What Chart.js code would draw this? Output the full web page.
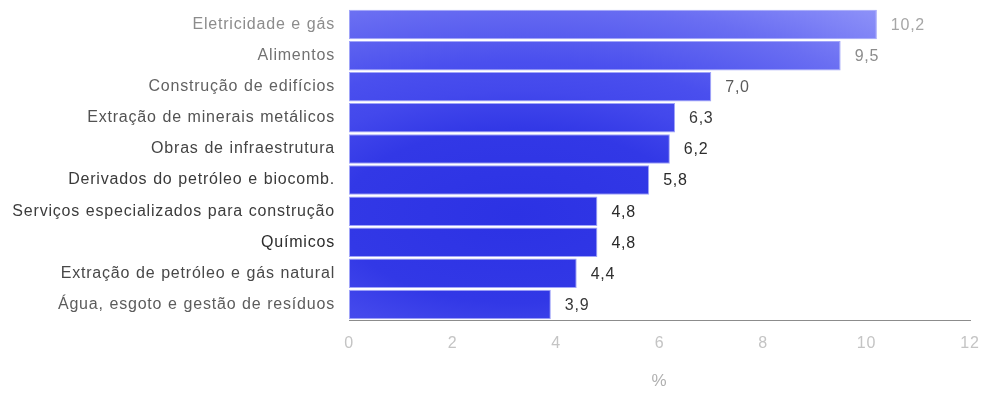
<!DOCTYPE html>
<html>
<head>
<meta charset="utf-8">
<script src="https://cdn.jsdelivr.net/npm/chart.js@4.4.1/dist/chart.umd.min.js"></script>
<style>
html,body{margin:0;padding:0;background:#fff;}
#wrap{width:984px;height:399px;position:relative;}
</style>
</head>
<body>
<div id="wrap"><canvas id="c" width="984" height="399"></canvas></div>
<script>
const categories = [
  "Eletricidade e gás",
  "Alimentos",
  "Construção de edifícios",
  "Extração de minerais metálicos",
  "Obras de infraestrutura",
  "Derivados do petróleo e biocomb.",
  "Serviços especializados para construção",
  "Químicos",
  "Extração de petróleo e gás natural",
  "Água, esgoto e gestão de resíduos"
];
const values = [10.2, 9.5, 7.0, 6.3, 6.2, 5.8, 4.8, 4.8, 4.4, 3.9];
const xTicks = [0, 2, 4, 6, 8, 10, 12];
const axisTitle = "%";

const labelColors = ["#8c8c8c","#727272","#626262","#525252","#444444","#3a3a3a","#3c3c3c","#2c2c2c","#484848","#5c5c5c"];
const valueColors = ["#a6a6a6","#8c8c8c","#5a5a5a","#3a3a3a","#2e2e2e","#2a2a2a","#2a2a2a","#2a2a2a","#303030","#383838"];

const FONT = "'Liberation Sans', Arial, sans-serif";

let cachedPattern = null, cachedKey = "";
function barGradient(ctx) {
  const chart = ctx.chart;
  const a = chart.chartArea;
  if (!a) return "#3a40ea";
  const key = [a.left, a.top, a.right, a.bottom].join(",");
  if (cachedPattern && cachedKey === key) return cachedPattern;
  const w = a.right - a.left, h = a.bottom - a.top;
  const cx = a.left + w * 0.27, cy = a.top + h * 0.665;
  const Rx = w * 0.805 * 1.1, Ry = h * 0.80 * 1.1;
  const off = document.createElement("canvas");
  off.width = chart.width; off.height = chart.height;
  const o = off.getContext("2d");
  o.translate(cx, cy);
  o.scale(Rx, Ry);
  const g = o.createRadialGradient(0, 0, 0, 0, 0, 1);
  const stops = [[0, "#2c32e4"], [0.35, "#3238e6"], [0.5, "#4348ec"], [0.62, "#4a4fee"], [0.72, "#575cef"], [0.87, "#6a6ef2"], [1.0, "#7f83f6"], [1.1, "#8e92f8"]];
  stops.forEach(s => g.addColorStop(s[0] / 1.1, s[1]));
  o.fillStyle = g;
  o.fillRect(-10, -10, 20, 20);
  cachedPattern = chart.ctx.createPattern(off, "no-repeat");
  cachedKey = key;
  return cachedPattern;
}

const spacing = {
  id: "spacing",
  beforeDraw(chart) {
    chart.ctx.letterSpacing = "0.8px";
    chart.ctx.wordSpacing = "0.5px";
  }
};

const valueLabels = {
  id: "valueLabels",
  afterDatasetsDraw(chart) {
    const meta = chart.getDatasetMeta(0);
    const c = chart.ctx;
    c.save();
    c.font = "16px " + FONT;
    c.letterSpacing = "0.75px";
    c.textBaseline = "middle";
    c.textAlign = "left";
    meta.data.forEach((bar, i) => {
      c.fillStyle = valueColors[i];
      c.fillText(values[i].toFixed(1).replace(".", ","), bar.x + 14, bar.y + 1);
    });
    c.restore();
  }
};

new Chart(document.getElementById("c"), {
  type: "bar",
  data: {
    labels: categories,
    datasets: [{
      data: values,
      backgroundColor: barGradient,
      borderColor: "rgba(150,154,248,0.9)",
      borderWidth: 1,
      borderSkipped: false,
      barPercentage: 0.95,
      categoryPercentage: 1.0
    }]
  },
  options: {
    indexAxis: "y",
    responsive: false,
    animation: false,
    layout: { padding: { top: 9, right: 14, left: 0, bottom: 0 } },
    plugins: { legend: { display: false }, tooltip: { enabled: false } },
    scales: {
      x: {
        min: 0, max: 12,
        afterBuildTicks(scale) { scale.ticks = xTicks.map(v => ({ value: v })); },
        afterFit(scale) { scale.height = 79; scale.paddingLeft = 0; scale.paddingRight = 0; },
        grid: { display: false, drawTicks: false },
        border: { display: true, color: "#8c8c8c", width: 1 },
        ticks: { color: "#c4c4c4", font: { family: FONT, size: 16 }, padding: 14 },
        title: { display: true, text: axisTitle, color: "#b0b0b0", font: { family: FONT, size: 17 }, padding: { top: 15, bottom: 7 } }
      },
      y: {
        grid: { display: false, drawTicks: false },
        border: { display: false },
        afterFit(scale) { scale.width = 349; scale.paddingTop = 0; scale.paddingBottom = 0; },
        ticks: {
          color: (ctx) => labelColors[ctx.index],
          font: { family: FONT, size: 16 },
          padding: 14
        }
      }
    }
  },
  plugins: [spacing, valueLabels]
});
</script>
</body>
</html>
